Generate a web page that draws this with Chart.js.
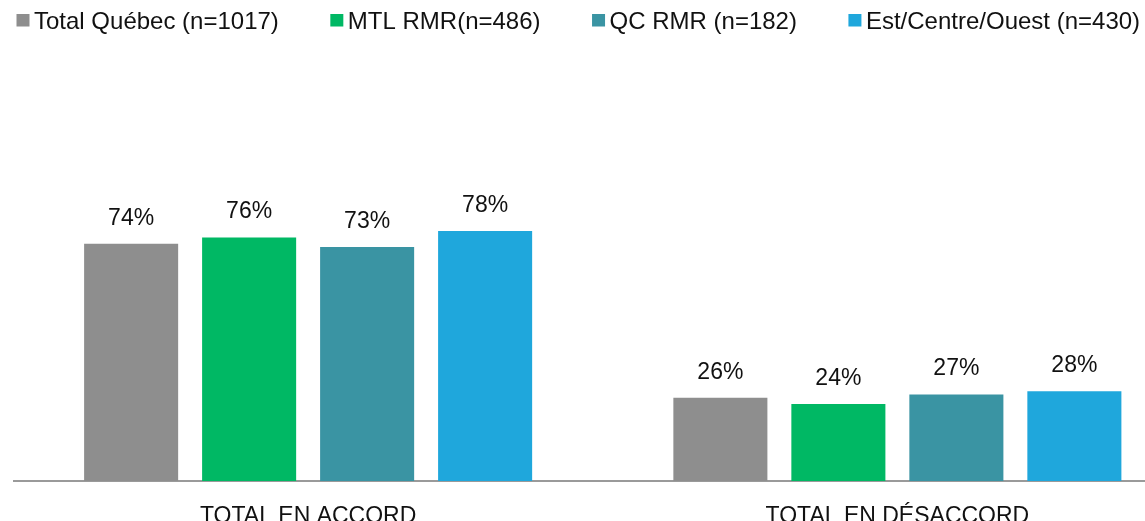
<!DOCTYPE html>
<html lang="fr">
<head>
<meta charset="UTF-8">
<title>Total en accord / désaccord</title>
<script src="https://cdn.jsdelivr.net/npm/chart.js"></script>
<style>
  body { margin: 0; background: #fff; }
  .quadro { width: 1145px; height: 521px; overflow: hidden; position: relative; }
  canvas { display: block; }
</style>
</head>
<body>
<div class="quadro">
  <canvas id="graficoAccord" width="1192" height="540"></canvas>
</div>

<script>
  // données
  const categories = ['TOTAL EN ACCORD', 'TOTAL EN DÉSACCORD'];
  const seriesNames = ['Total Québec (n=1017)', 'MTL RMR(n=486)', 'QC RMR (n=182)', 'Est/Centre/Ouest (n=430)'];
  const totalQuebec = [74, 26];
  const mtlRmr = [76, 24];
  const qcRmr = [73, 27];
  const estCentreOuest = [78, 28];
  const seriesColors = ['#8e8e8e', '#00b864', '#3a94a3', '#1fa7dc'];

  const fonte = "'Liberation Sans', Arial, sans-serif";

  // étiquettes de valeur au-dessus des barres
  const etiquettesValeurs = {
    id: 'etiquettesValeurs',
    afterDatasetsDraw(chart) {
      const ctx = chart.ctx;
      ctx.save();
      ctx.font = '23px ' + fonte;
      ctx.fillStyle = '#111';
      ctx.textAlign = 'center';
      ctx.textBaseline = 'alphabetic';
      chart.data.datasets.forEach(function (ds, i) {
        chart.getDatasetMeta(i).data.forEach(function (bar, j) {
          ctx.fillText(ds.data[j] + '%', bar.x, bar.y - 19);
        });
      });
      ctx.restore();
    }
  };

  // légende en haut à gauche
  const legendeHaut = {
    id: 'legendeHaut',
    afterDraw(chart) {
      const ctx = chart.ctx;
      ctx.save();
      ctx.font = '24px ' + fonte;
      ctx.textBaseline = 'alphabetic';
      let x = 16.5;
      chart.data.datasets.forEach(function (ds) {
        ctx.fillStyle = ds.backgroundColor;
        ctx.fillRect(x, 14, 13, 12.5);
        ctx.fillStyle = '#111';
        ctx.fillText(ds.label, x + 17.5, 28.5);
        x += 17.5 + ctx.measureText(ds.label).width + 51.5;
      });
      ctx.restore();
    }
  };

  const valeurs = [totalQuebec, mtlRmr, qcRmr, estCentreOuest];

  const dados = {
    labels: categories,
    datasets: valeurs.map(function (v, i) {
      return {
        label: seriesNames[i],
        data: v,
        backgroundColor: seriesColors[i],
        categoryPercentage: 0.801,
        barPercentage: 0.797
      };
    })
  };

  new Chart(document.getElementById('graficoAccord'), {
    type: 'bar',
    data: dados,
    options: {
      responsive: false,
      animation: false,
      devicePixelRatio: 1,
      layout: { padding: { top: 160.5, left: 13.5, right: 0, bottom: 0 } },
      plugins: {
        legend: { display: false },
        tooltip: { enabled: false }
      },
      scales: {
        x: {
          grid: { display: false },
          border: { display: true, color: '#9a9a9a', width: 2 },
          ticks: {
            color: '#111',
            padding: 13.5,
            font: { family: fonte, size: 23 }
          },
          afterFit(scale) { scale.height = 59; }
        },
        y: {
          display: false,
          min: 0,
          max: 100
        }
      }
    },
    plugins: [etiquettesValeurs, legendeHaut]
  });
</script>
</body>
</html>
